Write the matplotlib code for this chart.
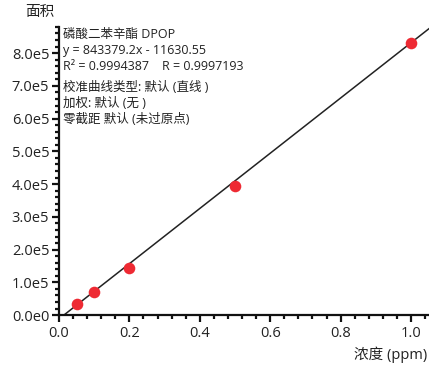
import matplotlib.pyplot as plt
import numpy as np
from matplotlib.ticker import MultipleLocator, AutoMinorLocator, FuncFormatter

plt.rcParams['font.family'] = ['Open Sans', 'Noto Sans CJK SC', 'DejaVu Sans']

# 校准点 (浓度 ppm, 峰面积)
conc = [0.05, 0.1, 0.2, 0.5, 1.0]
area = [33000, 71500, 145000, 393000, 830000]

# 拟合结果
slope = 843379.2
intercept = -11630.55

fit_lines = [
    "磷酸二苯辛酯 DPOP",
    "y = 843379.2x - 11630.55",
    "R² = 0.9994387    R = 0.9997193",
]
method_lines = [
    "校准曲线类型: 默认 (直线 )",
    "加权: 默认 (无 )",
    "零截距 默认 (未过原点)",
]

fig = plt.figure(figsize=(4.29, 3.69), dpi=100)
ax = fig.add_axes([0.1375, 0.146, 0.8625, 0.781])

xmin, xmax = 0.0, 1.051
xs = np.array([xmin, xmax])
ax.plot(xs, slope * xs + intercept, color="#222222", lw=1.1, zorder=2)
ax.scatter(conc, area, s=70, color="#EE2A33", zorder=3, linewidths=0)

ax.set_xlim(xmin, xmax)
ax.set_ylim(0, 8.8e5)

ax.xaxis.set_major_locator(MultipleLocator(0.2))
ax.xaxis.set_minor_locator(AutoMinorLocator(5))
ax.yaxis.set_major_locator(MultipleLocator(1e5))
ax.yaxis.set_minor_locator(AutoMinorLocator(5))
ax.xaxis.set_major_formatter(FuncFormatter(lambda v, p: f"{v:.1f}"))

def sci_fmt(v, p):
    if v == 0:
        return "0.0e0"
    e = int(np.floor(np.log10(abs(v))))
    return f"{v / 10**e:.1f}e{e}"

ax.yaxis.set_major_formatter(FuncFormatter(sci_fmt))

for side in ["top", "right"]:
    ax.spines[side].set_visible(False)
for side in ["left", "bottom"]:
    ax.spines[side].set_linewidth(1.6)
    ax.spines[side].set_color("#111111")

ax.tick_params(axis="both", which="major", length=5, width=1.6, labelsize=10.5,
               colors="#111111", labelcolor="#222222")
ax.tick_params(axis="both", which="minor", length=3, width=1.6, colors="#111111")
ax.tick_params(axis="x", pad=3)
ax.tick_params(axis="y", pad=2)

# 拟合信息与校准设置
ax.text(0.012, 0.995, "\n".join(fit_lines), transform=ax.transAxes,
        ha="left", va="top", fontsize=9, color="#222222", linespacing=1.3)
ax.text(0.012, 0.811, "\n".join(method_lines), transform=ax.transAxes,
        ha="left", va="top", fontsize=9, color="#222222", linespacing=1.3)

fig.text(0.093, 0.967, "面积", ha="center", va="center", fontsize=10.5, color="#222222")
fig.text(0.995, 0.038, "浓度 (ppm)", ha="right", va="center", fontsize=10.5, color="#222222")

fig.savefig("out.png", dpi=100)
